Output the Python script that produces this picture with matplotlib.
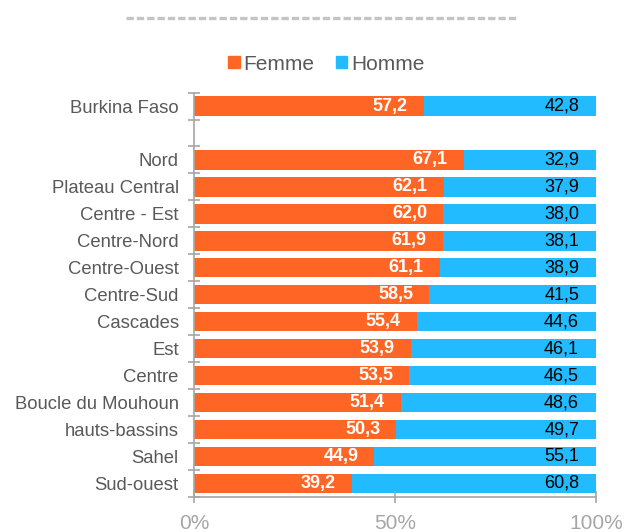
import matplotlib
matplotlib.use("Agg")
import matplotlib.pyplot as plt
import numpy as np
from matplotlib.lines import Line2D

plt.rcParams['font.family'] = ['Liberation Sans', 'DejaVu Sans']

regions = ["Burkina Faso", "", "Nord", "Plateau Central", "Centre - Est", "Centre-Nord",
           "Centre-Ouest", "Centre-Sud", "Cascades", "Est", "Centre", "Boucle du Mouhoun",
           "hauts-bassins", "Sahel", "Sud-ouest"]
femme = [57.2, None, 67.1, 62.1, 62.0, 61.9, 61.1, 58.5, 55.4, 53.9, 53.5, 51.4, 50.3, 44.9, 39.2]
homme = [42.8, None, 32.9, 37.9, 38.0, 38.1, 38.9, 41.5, 44.6, 46.1, 46.5, 48.6, 49.7, 55.1, 60.8]

orange = '#FF6625'
bleu = '#22BBFF'
gris = '#A6A6A6'

fig = plt.figure(figsize=(6.24, 5.32), dpi=100)
ax = fig.add_axes([0.311, 0.066, 0.644, 0.760])

y = np.arange(len(regions))
for i in range(len(regions)):
    if femme[i] is None:
        continue
    ax.barh(y[i], femme[i], height=0.72, color=orange)
    ax.barh(y[i], homme[i], left=femme[i], height=0.72, color=bleu)
    ax.text(femme[i] - 4, y[i], f"{femme[i]:.1f}".replace('.', ','), ha='right', va='center',
            color='white', fontweight='bold', fontsize=13)
    ax.text(95.8, y[i], f"{homme[i]:.1f}".replace('.', ','), ha='right', va='center',
            color='black', fontsize=13)

ax.set_ylim(len(regions) - 0.5, -0.5)
ax.set_xlim(0, 100)
ax.set_yticks(y)
ax.set_yticklabels(regions, fontsize=13.3, color='#595959')
ax.tick_params(axis='y', length=0, pad=11)
ax.set_yticks(np.arange(-0.5, len(regions)), minor=True)
ax.tick_params(axis='y', which='minor', length=8, direction='inout', color=gris, width=1.2)

ax.set_xticks([0, 50, 100])
ax.set_xticklabels(['0%', '50%', '100%'], fontsize=15, color=gris)
ax.tick_params(axis='x', length=8, direction='inout', color=gris, width=1.2, pad=8)

for s in ['top', 'right']:
    ax.spines[s].set_visible(False)
for s in ['left', 'bottom']:
    ax.spines[s].set_color(gris)
    ax.spines[s].set_linewidth(1.2)

# trait pointillé du titre
fig.add_artist(Line2D([126 / 624, 518 / 624], [1 - 18 / 532, 1 - 18 / 532],
                      color='#C4C4C4', linewidth=2.4, linestyle=(0, (2.2, 0.9))))

handles = [plt.Rectangle((0, 0), 1, 1, color=orange), plt.Rectangle((0, 0), 1, 1, color=bleu)]
fig.legend(handles, ['Femme', 'Homme'], loc='center', bbox_to_anchor=(0.523, 1 - 64 / 532),
           ncol=2, frameon=False, fontsize=15, handlelength=0.55, handleheight=0.55,
           handletextpad=0.2, columnspacing=1.0, labelcolor='#595959')

fig.savefig("out.png", dpi=100)
